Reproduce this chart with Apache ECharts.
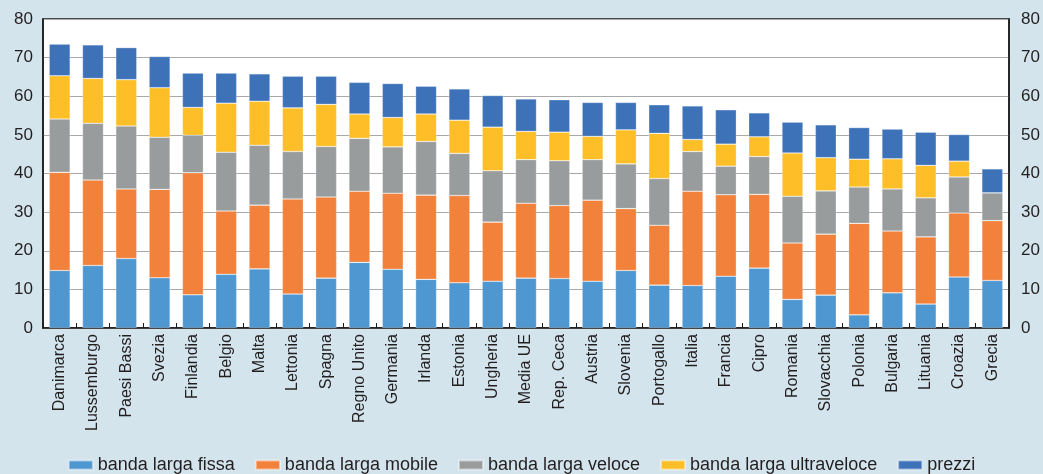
<!DOCTYPE html>
<html>
<head>
<meta charset="utf-8">
<script src="https://cdn.jsdelivr.net/npm/echarts@6/dist/echarts.min.js"></script>
<style>
html,body{margin:0;padding:0;background:#d3e4ed;}
#c{width:1043px;height:474px;}
</style>
</head>
<body>
<div id="c"></div>
<script>
const categories = ["Danimarca","Lussemburgo","Paesi Bassi","Svezia","Finlandia","Belgio","Malta","Lettonia","Spagna","Regno Unito","Germania","Irlanda","Estonia","Ungheria","Media UE","Rep. Ceca","Austria","Slovenia","Portogallo","Italia","Francia","Cipro","Romania","Slovacchia","Polonia","Bulgaria","Lituania","Croazia","Grecia"];
const fissa =       [14.9,16.2,18.0,13.0, 8.6,13.9,15.3, 8.8,12.9,17.0,15.2,12.6,11.7,12.1,12.9,12.8,12.1,14.9,11.1,11.0,13.4,15.5, 7.4, 8.5, 3.4, 9.1, 6.2,13.2,12.3];
const mobile =      [25.4,22.1,18.0,22.9,31.6,16.4,16.5,24.6,21.0,18.4,19.7,21.8,22.6,15.3,19.4,18.9,21.0,16.0,15.5,24.4,21.1,19.1,14.6,15.8,23.7,16.0,17.4,16.6,15.5];
const veloce =      [13.8,14.7,16.3,13.5, 9.7,15.2,15.5,12.3,13.1,13.7,12.0,13.9,10.9,13.3,11.3,11.6,10.5,11.6,12.1,10.3, 7.4, 9.8,12.1,11.2, 9.4,10.9,10.1, 9.3, 7.2];
const ultraveloce = [11.2,11.6,12.0,12.8, 7.2,12.7,11.4,11.3,10.9, 6.3, 7.6, 7.1, 8.6,11.3, 7.3, 7.4, 6.0, 8.8,11.7, 3.1, 5.7, 5.1,11.2, 8.6, 7.2, 7.8, 8.4, 4.1, 0.0];
const prezzi =      [ 8.2, 8.7, 8.3, 8.1, 8.9, 7.8, 7.1, 8.2, 7.3, 8.2, 8.8, 7.2, 8.1, 8.2, 8.4, 8.4, 8.8, 7.1, 7.4, 8.7, 8.9, 6.2, 8.0, 8.5, 8.2, 7.7, 8.6, 6.9, 6.2];
const seriesNames = ["banda larga fissa","banda larga mobile","banda larga veloce","banda larga ultraveloce","prezzi"];
const colors = ["#4f97d1","#f1813b","#999c9d","#fdbe27","#3e72b8"];
const yTicks = {min:0, max:80, interval:10};

const chart = echarts.init(document.getElementById('c'));
const font = '"Liberation Sans", Arial, sans-serif';
const dataSets = [fissa, mobile, veloce, ultraveloce, prezzi];
const axisLabelStyle = {color:'#231f20', fontSize:17, fontFamily:font};
chart.setOption({
  backgroundColor:'#d3e4ed',
  animation:false,
  color:colors,
  grid:{left:43, right:34, top:19, bottom:146, show:true, backgroundColor:'#ffffff', borderColor:'#1a1a1a', borderWidth:1.5},
  legend:{
    top:451, left:'center', itemWidth:24, itemHeight:9, itemGap:20,
    icon:'rect',
    textStyle:{color:'#231f20', fontSize:18, fontFamily:font},
    data:seriesNames
  },
  xAxis:{
    type:'category', data:categories,
    axisLine:{show:true, lineStyle:{color:'#1a1a1a', width:1.5}},
    axisTick:{show:true, inside:true, length:5, alignWithLabel:false, lineStyle:{color:'#1a1a1a'}},
    axisLabel:{rotate:90, interval:0, color:'#231f20', fontSize:16, fontFamily:font, margin:6}
  },
  yAxis:[
    {type:'value', min:yTicks.min, max:yTicks.max, interval:yTicks.interval, position:'left',
     axisLine:{show:true, lineStyle:{color:'#1a1a1a', width:1.5}}, axisTick:{show:false},
     axisLabel:Object.assign({margin:10}, axisLabelStyle),
     splitLine:{show:true, lineStyle:{color:'#a9a9a9', width:1}}},
    {type:'value', min:yTicks.min, max:yTicks.max, interval:yTicks.interval, position:'right',
     axisLine:{show:true, lineStyle:{color:'#1a1a1a', width:1.5}}, axisTick:{show:false},
     axisLabel:Object.assign({margin:12}, axisLabelStyle),
     splitLine:{show:false}}
  ],
  series: seriesNames.map((n,i)=>({
    name:n, type:'bar', stack:'tot', barWidth:21, data:dataSets[i],
    itemStyle:{color:colors[i], borderColor:'rgba(255,255,255,0.45)', borderWidth:0.6}
  }))
});
</script>
</body>
</html>
